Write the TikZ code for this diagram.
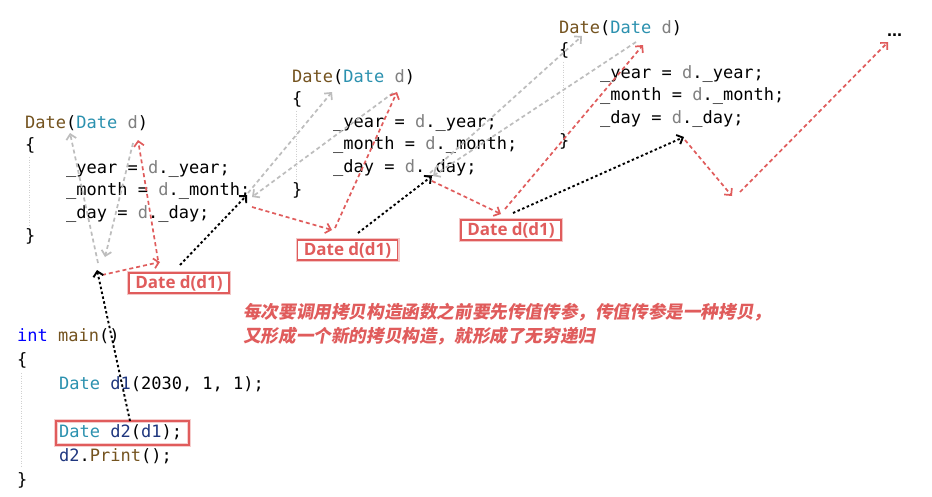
\documentclass[tikz,border=0pt]{standalone}
\usepackage{fontspec}
\usetikzlibrary{arrows.meta}
\setmonofont{DejaVu Sans Mono}
\newfontfamily\cjkfont[FakeSlant=0.18]{Noto Sans CJK SC}
\newfontfamily\lblfont{Open Sans}
\newfontfamily\dotfont{Liberation Sans}
\definecolor{fnc}{HTML}{74531F}
\definecolor{typc}{HTML}{2B91AF}
\definecolor{parc}{HTML}{808080}
\definecolor{kwc}{HTML}{0000FF}
\definecolor{locc}{HTML}{1F377F}
\definecolor{redc}{HTML}{E05C5C}
\definecolor{grayc}{HTML}{BDBDBD}
\definecolor{guidec}{HTML}{D0D0D0}
\tikzset{
  code/.style={anchor=base west, inner sep=0pt, font=\ttfamily\fontsize{17}{20}\selectfont},
  guide/.style={draw=guidec, line width=0.6pt, dash pattern=on 1pt off 1.5pt},
  tipv/.style={-{Straight Barb[length=5pt,width=10pt]}},
  blkarr/.style={tipv, draw=black, line width=1.9pt, dash pattern=on 2.5pt off 2.5pt},
  redarr/.style={tipv, draw=redc, line width=1.7pt, dash pattern=on 4pt off 3pt},
  grayarr/.style={tipv, draw=grayc, line width=1.7pt, dash pattern=on 4pt off 3pt},
  lbl/.style={draw=redc, line width=1.3pt, fill=white, text=redc,
    preaction={draw=redc!35, line width=4pt},
    font=\lblfont\bfseries\fontsize{17}{18}\selectfont,
    minimum width=100pt, minimum height=20pt, inner sep=1pt},
  hlbox/.style={draw=redc, line width=1.3pt, preaction={draw=redc!30, line width=4pt}},
  cjk/.style={anchor=base west, inner sep=0pt, text=redc,
    font=\cjkfont\bfseries\fontsize{17.6}{20}\selectfont},
}
\newcommand\ctorblock[1]{%
  \node[code] (#1h) at (0,0) {\textcolor{fnc}{Date}(\textcolor{typc}{Date} \textcolor{parc}{d})};
  \node[code] (#1o) at (0,22.6) {\{};
  \node[code] (#1y) at (41,45.2) {\_year = \textcolor{parc}{d}.\_year;};
  \node[code] (#1m) at (41,67.8) {\_month = \textcolor{parc}{d}.\_month;};
  \node[code] (#1d) at (41,90.4) {\_day = \textcolor{parc}{d}.\_day;};
  \node[code] (#1c) at (0,113) {\}};
  \coordinate (#1gt) at (4,29);
  \coordinate (#1gb) at (4,97);
  \draw[guide] (#1gt) -- (#1gb);
}
\begin{document}
\begin{tikzpicture}[x=1pt,y=-1pt]
\fill[white] (0,0) rectangle (932,496);
\useasboundingbox (0,0) rectangle (932,496);

% three copy-constructor blocks
\begin{scope}[shift={(25,128)}]\ctorblock{a}\end{scope}
\begin{scope}[shift={(292,82)}]\ctorblock{b}\end{scope}
\begin{scope}[shift={(559,33)}]\ctorblock{c}\end{scope}

% main
\node[code] (m1) at (17,341) {\textcolor{kwc}{int} \textcolor{fnc}{main}()};
\node[code] (m2) at (17,365) {\{};
\node[code] (m3) at (59,389) {\textcolor{typc}{Date} \textcolor{locc}{d1}(2030, 1, 1);};
\node[code] (m4) at (59,437) {\textcolor{typc}{Date} \textcolor{locc}{d2}(\textcolor{locc}{d1});};
\node[code] (m5) at (59,461) {\textcolor{locc}{d2}.\textcolor{fnc}{Print}();};
\node[code] (m6) at (17,485) {\}};
\coordinate (mgt) at (21,373);
\coordinate (mgb) at (21,467);
\draw[guide] (mgt) -- (mgb);
\node[hlbox, minimum width=133pt, minimum height=24pt, inner sep=0pt] (d2box) at (122.5,433) {};

% explanation text
\node[cjk] (t1) at (243,318.5) {每次要调用拷贝构造函数之前要先传值传参，传值传参是一种拷贝，};
\node[cjk] (t2) at (243,342.5) {又形成一个新的拷贝构造，就形成了无穷递归};

% ellipsis
\node[anchor=base west, inner sep=0pt, font=\dotfont\bfseries\fontsize{18}{20}\selectfont] (dots) at (887,36) {...};

% coordinates of arrow ends
\coordinate (k1s) at (130,421); \coordinate (k1e) at (97,270);
\coordinate (k2s) at (180,265); \coordinate (k2e) at (247,195);
\coordinate (k3s) at (358,233); \coordinate (k3e) at (432,176);
\coordinate (k4s) at (513,213); \coordinate (k4e) at (684,137);

\coordinate (r1s) at (102,275); \coordinate (r1e) at (160,262);
\coordinate (r2s) at (158,260); \coordinate (r2e) at (138,140);
\coordinate (r3s) at (252,207); \coordinate (r3e) at (332,230);
\coordinate (r4s) at (335,228); \coordinate (r4e) at (397,92);
\coordinate (r5s) at (432,181); \coordinate (r5e) at (501,214);
\coordinate (r6s) at (505,209); \coordinate (r6e) at (643,45);
\coordinate (r7s) at (685,140); \coordinate (r7e) at (732,196);
\coordinate (r8s) at (740,192); \coordinate (r8e) at (888,42);

\coordinate (g1s) at (98,263);  \coordinate (g1e) at (70,133);
\coordinate (g2s) at (133,143); \coordinate (g2e) at (105,257);
\coordinate (g3s) at (248,193); \coordinate (g3e) at (332,92);
\coordinate (g4s) at (393,93);  \coordinate (g4e) at (252,197);
\coordinate (g5s) at (430,173); \coordinate (g5e) at (582,36);
\coordinate (g6s) at (636,42);  \coordinate (g6e) at (433,176);

% gray arrows
\foreach \i in {1,...,6} {\draw[grayarr] (g\i s) -- (g\i e);}
% red arrows
\foreach \i in {1,...,8} {\draw[redarr] (r\i s) -- (r\i e);}
% black arrows
\foreach \i in {1,...,4} {\draw[blkarr] (k\i s) -- (k\i e);}

% labels
\node[lbl] (l1) at (179,283) {Date d(d1)};
\node[lbl] (l2) at (347.5,250) {Date d(d1)};
\node[lbl] (l3) at (511,230) {Date d(d1)};
\end{tikzpicture}
\end{document}
